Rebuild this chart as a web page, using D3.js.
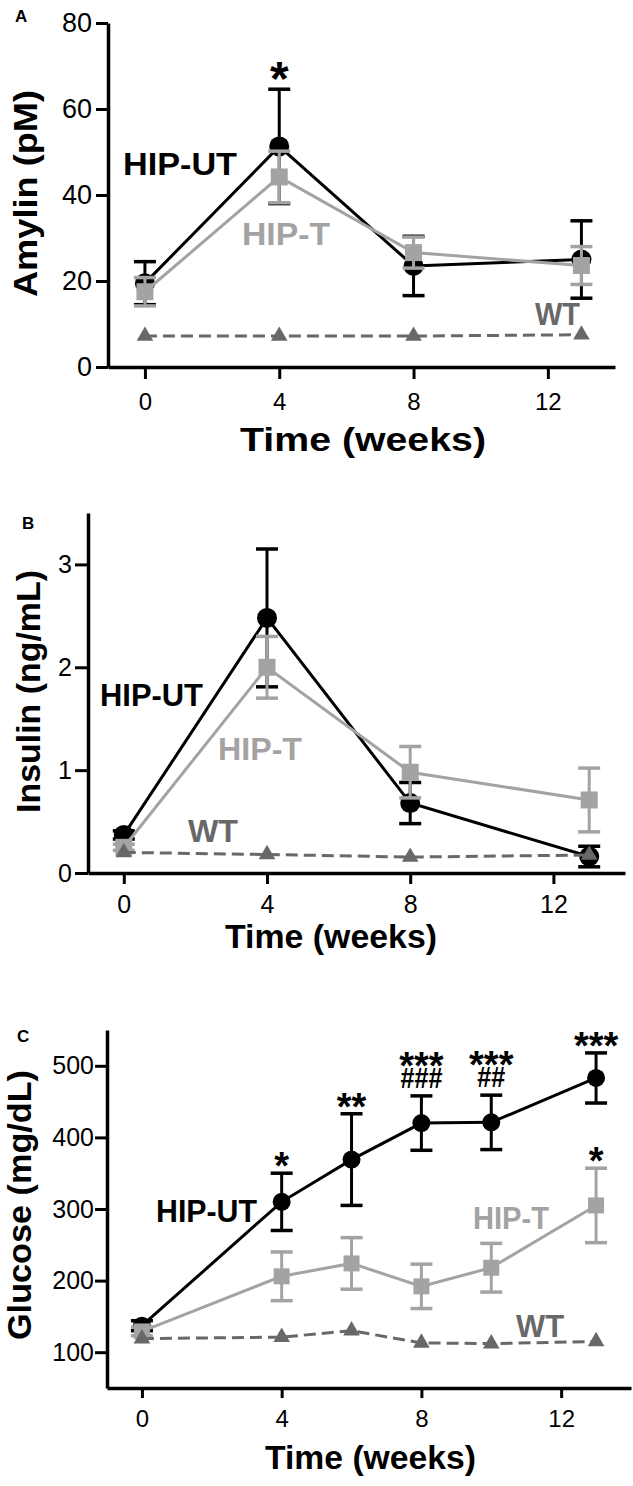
<!DOCTYPE html>
<html><head><meta charset="utf-8">
<script src="https://cdn.jsdelivr.net/npm/d3@7"></script>
<style>body{margin:0;background:#fff}svg{display:block;background:#fff}</style>
</head><body><svg id="c" width="633" height="1486"></svg>
<script>
// ---------------- data ----------------
const seriesNames = ["HIP-UT", "HIP-T", "WT"];
const xTicks = [0, 4, 8, 12];

const weeksAB = [0, 4, 8, 13];
const amylinUT = [19.5, 51.3, 23.5, 25.0];
const amylinUTErr = [5, 13.3, 6.9, 9];
const amylinT = [17.5, 44.2, 26.6, 23.6];
const amylinTErr = [3.3, 6, 3.6, 4.4];
const amylinWT = [7.2, 7.2, 7.2, 7.5];
const yTicksA = [0, 20, 40, 60, 80];

const insulinUT = [0.37, 2.48, 0.68, 0.16];
const insulinUTErr = [0.04, 0.67, 0.2, 0.1];
const insulinT = [0.25, 2.0, 0.98, 0.71];
const insulinTErr = [0.03, 0.3, 0.25, 0.31];
const insulinWT = [0.2, 0.18, 0.155, 0.175];
const yTicksB = [0, 1, 2, 3];

const weeksC = [0, 4, 6, 8, 10, 13];
const glucoseUT = [137, 310, 369, 420, 421, 483];
const glucoseUTErr = [7, 40, 64, 38, 38, 35];
const glucoseT = [129, 206, 224, 192, 218, 305];
const glucoseTErr = [6, 34, 36, 31, 34, 52];
const glucoseWT = [119, 121, 130, 113, 112, 115];
const yTicksC = [100, 200, 300, 400, 500];

const annotationsA = [{series: 0, week: 4, stars: "*", hashes: ""}];
const annotationsC = [
  {series: 0, week: 4, stars: "*", hashes: ""},
  {series: 0, week: 6, stars: "**", hashes: ""},
  {series: 0, week: 8, stars: "***", hashes: "###"},
  {series: 0, week: 10, stars: "***", hashes: "##"},
  {series: 0, week: 13, stars: "***", hashes: ""},
  {series: 1, week: 13, stars: "*", hashes: ""}
];

// ---------------- styles ----------------
const FONT = "'Liberation Sans', Arial, Helvetica, sans-serif";
const COLORS = ["#000000", "#a3a3a3", "#686868"];
const svg = d3.select("#c");

function panel(cfg) {
  const g = svg.append("g");
  const x = d3.scaleLinear().domain(cfg.xDomain).range(cfg.xRange);
  const y = d3.scaleLinear().domain(cfg.yDomain).range(cfg.yRange);
  const y0 = cfg.yRange[0];
  const x0 = cfg.xRange[0];

  // axes
  const ya = g.append("g").attr("transform", `translate(${x0},0)`)
    .call(d3.axisLeft(y).tickValues(cfg.yTicks).tickSize(cfg.yTickSize).tickSizeOuter(0)
      .tickPadding(cfg.yTickPad).tickFormat(d3.format("d")));
  const xa = g.append("g").attr("transform", `translate(0,${y0})`)
    .call(d3.axisBottom(x).tickValues(xTicks).tickSize(cfg.xTickSize).tickSizeOuter(0)
      .tickPadding(cfg.xTickPad).tickFormat(d3.format("d")));
  [ya, xa].forEach(a => {
    a.select(".domain").attr("stroke", "#000").attr("stroke-width", 3.5);
    a.selectAll(".tick line").attr("stroke", "#000").attr("stroke-width", 3);
    a.selectAll("text").attr("fill", "#000").style("font-family", FONT);
  });
  ya.selectAll("text").style("font-size", cfg.yTickFont + "px");
  xa.selectAll("text").style("font-size", cfg.xTickFont + "px");

  // axis titles
  g.append("text").text("Time (weeks)")
    .attr("x", cfg.timeX).attr("y", cfg.timeY).attr("text-anchor", "middle")
    .attr("textLength", cfg.timeLen).attr("lengthAdjust", "spacingAndGlyphs")
    .style("font-family", FONT).style("font-weight", "bold").style("font-size", "33px");
  g.append("text").text(cfg.title)
    .attr("transform", `translate(${cfg.titleX},${cfg.titleY}) rotate(-90)`)
    .attr("text-anchor", "middle")
    .attr("textLength", cfg.titleLen).attr("lengthAdjust", "spacingAndGlyphs")
    .style("font-family", FONT).style("font-weight", "bold").style("font-size", "33px");
  g.append("text").text(cfg.letter).attr("x", cfg.letterX).attr("y", cfg.letterY)
    .style("font-family", FONT).style("font-weight", "bold").style("font-size", "17px");

  // series
  const line = d3.line().x(d => x(d[0])).y(d => y(d[1]));
  const drawSeries = (i, vals, errs) => {
    const col = COLORS[i];
    const pts = cfg.weeks.map((w, k) => [w, vals[k]]);
    g.append("path").datum(pts).attr("d", line).attr("fill", "none")
      .attr("stroke", col).attr("stroke-width", 3)
      .attr("stroke-dasharray", i === 2 ? "12,6" : null);
    if (errs) {
      const eg = g.append("g").attr("stroke", col).attr("stroke-width", 3).attr("fill", "none");
      pts.forEach((p, k) => {
        const cx = x(p[0]), yt = y(p[1] + errs[k]), yb = y(p[1] - errs[k]);
        eg.append("line").attr("x1", cx).attr("x2", cx).attr("y1", yt).attr("y2", yb);
        [yt, yb].forEach(yy => eg.append("line").attr("x1", cx - 11).attr("x2", cx + 11)
          .attr("y1", yy).attr("y2", yy).attr("stroke-width", 3.5));
      });
    }
    const sym = [d3.symbolCircle, d3.symbolSquare, d3.symbolTriangle][i];
    const size = [Math.PI * cfg.r * cfg.r, cfg.sq * cfg.sq, 120][i];
    g.append("g").selectAll("path").data(pts).join("path")
      .attr("transform", d => `translate(${x(d[0])},${y(d[1])})`)
      .attr("d", d3.symbol().type(sym).size(size)).attr("fill", col);
  };
  drawSeries(0, cfg.ut, cfg.utErr);
  drawSeries(1, cfg.t, cfg.tErr);
  drawSeries(2, cfg.wt, null);

  // series labels
  cfg.labels.forEach((l, i) => {
    g.append("text").text(seriesNames[i]).attr("x", l.x).attr("y", l.y)
      .attr("textLength", l.len).attr("lengthAdjust", "spacingAndGlyphs")
      .attr("fill", COLORS[i])
      .style("font-family", FONT).style("font-weight", "bold").style("font-size", "32px");
  });

  // significance annotations (stars, optionally with a line of hashes below, as one text)
  (cfg.annotations || []).forEach(a => {
    const k = cfg.weeks.indexOf(a.week);
    const vals = a.series === 0 ? cfg.ut : cfg.t;
    const errs = a.series === 0 ? cfg.utErr : cfg.tErr;
    const cx = x(a.week);
    const top = y(vals[k] + errs[k]);
    const c = a.hashes ? top - 40 : top - cfg.starGap;
    const t = g.append("text").attr("text-anchor", "middle")
      .style("font-family", FONT).style("font-weight", "bold");
    t.append("tspan").text(a.stars).attr("x", cx).attr("y", c + cfg.starFont * 0.6)
      .style("font-size", cfg.starFont + "px");
    if (a.hashes) {
      t.append("tspan").text(a.hashes).attr("x", cx).attr("y", top - 8)
        .attr("textLength", a.hashes.length * 14).attr("lengthAdjust", "spacingAndGlyphs")
        .style("font-size", "30px");
    }
  });
}

panel({
  weeks: weeksAB, ut: amylinUT, utErr: amylinUTErr, t: amylinT, tErr: amylinTErr, wt: amylinWT,
  xDomain: [-1.1, 14], xRange: [108, 615], yDomain: [0, 80], yRange: [367, 23], yTicks: yTicksA,
  yTickSize: 12, yTickPad: 4, yTickFont: 27, xTickSize: 12, xTickPad: 14, xTickFont: 24,
  r: 10, sq: 17, title: "Amylin (pM)", titleX: 37, titleY: 193.5, titleLen: 207,
  timeX: 363, timeY: 451, timeLen: 246, letter: "A", letterX: 15, letterY: 22,
  labels: [{x: 123, y: 175, len: 114}, {x: 242, y: 245, len: 88}, {x: 535, y: 325, len: 45}],
  annotations: annotationsA, starFont: 48, starGap: 23
});
panel({
  weeks: weeksAB, ut: insulinUT, utErr: insulinUTErr, t: insulinT, tErr: insulinTErr, wt: insulinWT,
  xDomain: [-1, 14], xRange: [88, 625], yDomain: [0, 3.5], yRange: [873, 513], yTicks: yTicksB,
  yTickSize: 13, yTickPad: 3, yTickFont: 25, xTickSize: 11, xTickPad: 11, xTickFont: 25,
  r: 10, sq: 17, title: "Insulin (ng/mL)", titleX: 40, titleY: 691.5, titleLen: 243,
  timeX: 331, timeY: 948, timeLen: 212, letter: "B", letterX: 22, letterY: 529,
  labels: [{x: 100, y: 706, len: 103}, {x: 218, y: 760, len: 84}, {x: 188, y: 842, len: 50}],
  annotations: [], starFont: 38, starGap: 18
});
panel({
  weeks: weeksC, ut: glucoseUT, utErr: glucoseUTErr, t: glucoseT, tErr: glucoseTErr, wt: glucoseWT,
  xDomain: [-1, 14], xRange: [107, 631], yDomain: [50, 550], yRange: [1388, 1030], yTicks: yTicksC,
  yTickSize: 12, yTickPad: 1, yTickFont: 25, xTickSize: 10, xTickPad: 12, xTickFont: 24,
  r: 9, sq: 16, title: "Glucose (mg/dL)", titleX: 31, titleY: 1205, titleLen: 270,
  timeX: 370.5, timeY: 1469, timeLen: 211, letter: "C", letterX: 17, letterY: 1042,
  labels: [{x: 156, y: 1222, len: 101}, {x: 473, y: 1229, len: 76}, {x: 516, y: 1337, len: 48}],
  annotations: annotationsC, starFont: 38, starGap: 17
});
</script></body></html>
